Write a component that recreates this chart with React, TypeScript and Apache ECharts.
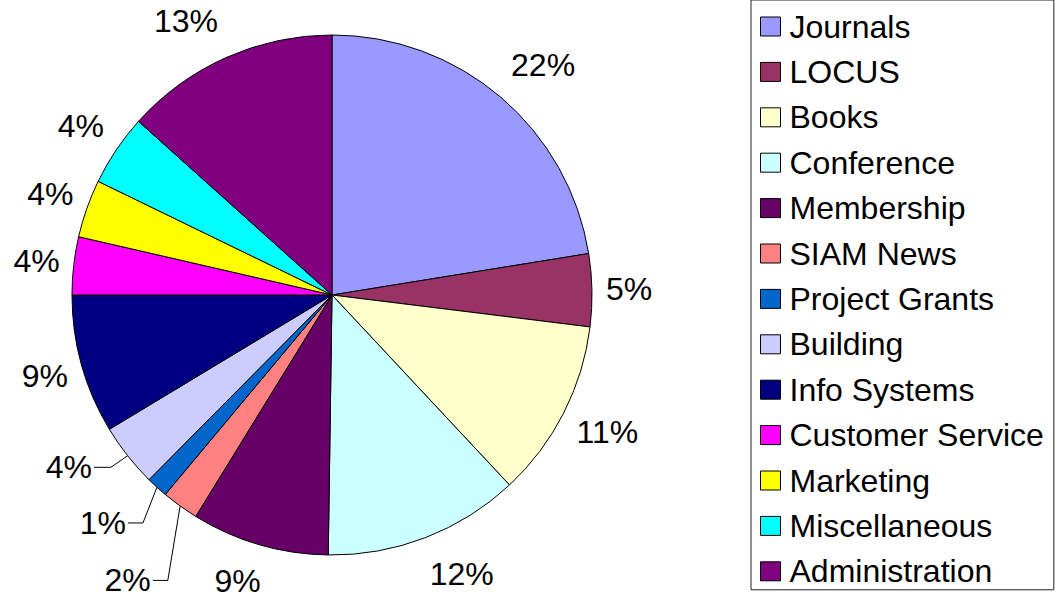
import React, { useEffect, useRef } from "react";
import * as echarts from "echarts";

const categories = [
  "Journals",
  "LOCUS",
  "Books",
  "Conference",
  "Membership",
  "SIAM News",
  "Project Grants",
  "Building",
  "Info Systems",
  "Customer Service",
  "Marketing",
  "Miscellaneous",
  "Administration",
];

// share of the total (percent)
const values = [22.45, 4.51, 11.08, 12.19, 8.55, 2.3, 1.35, 3.93, 8.64, 3.6, 3.6, 4.44, 13.36];

const colors = [
  "#9999FF",
  "#993366",
  "#FFFFCC",
  "#CCFFFF",
  "#660066",
  "#FF8080",
  "#0066CC",
  "#CCCCFF",
  "#000080",
  "#FF00FF",
  "#FFFF00",
  "#00FFFF",
  "#800080",
];

const FONT = '"Liberation Sans", Arial, Helvetica, sans-serif';
const CX = 332;
const CY = 295;
const R = 260;

// leader-line labels (moved labels): elbow offset from the arc point, horizontal leg
const callouts: Record<number, { dx: number; dy: number; leg: number }> = {
  5: { dx: -12.3, dy: 74.4, leg: 15 },
  6: { dx: -14, dy: 35.7, leg: 15 },
  7: { dx: -16.7, dy: 11.6, leg: 17 },
};

export default function App() {
  const ref = useRef<HTMLDivElement>(null);

  useEffect(() => {
    if (!ref.current) return;
    const chart = echarts.init(ref.current, undefined, { renderer: "svg" });
    const total = values.reduce((a, b) => a + b, 0);
    const cum: number[] = [];
    let acc = 0;
    values.forEach((v) => {
      cum.push(acc);
      acc += v;
    });
    const mid = (i: number) => ((cum[i] + values[i] / 2) / total) * Math.PI * 2;
    const clamp = (v: number) => Math.max(-1, Math.min(1, v));

    const option: any = {
      animation: false,
      backgroundColor: "#ffffff",
      legend: {
        orient: "vertical",
        left: 751,
        top: 0,
        data: categories,
        icon: "rect",
        itemWidth: 20,
        itemHeight: 19,
        itemGap: 10.4,
        padding: [9, 10, 1, 9],
        borderColor: "#222",
        borderWidth: 1,
        backgroundColor: "#fff",
        selectedMode: false,
        itemStyle: { borderColor: "#000", borderWidth: 1 },
        textStyle: {
          fontFamily: FONT,
          fontSize: 32,
          color: "#000",
          lineHeight: 35,
          padding: [0, 0, 0, 4],
        },
      },
      series: [
        {
          type: "pie",
          center: [CX, CY],
          radius: R,
          startAngle: 90,
          clockwise: true,
          avoidLabelOverlap: false,
          silent: true,
          emphasis: { disabled: true },
          itemStyle: { borderColor: "#000", borderWidth: 1 },
          label: {
            show: true,
            position: "outside",
            fontFamily: FONT,
            fontSize: 32,
            color: "#000",
            bleedMargin: 0,
            formatter: (p: any) => Math.round((p.value / total) * 100) + "%",
          },
          labelLine: {
            show: false,
            length: 0,
            length2: 0,
            smooth: false,
            lineStyle: { color: "#000", width: 1 },
          },
          labelLayout: (p: any) => {
            const i = p.dataIndex;
            const a = mid(i);
            const ux = Math.sin(a);
            const uy = -Math.cos(a);
            const c = callouts[i];
            if (c) {
              const x1 = CX + R * ux;
              const y1 = CY + R * uy;
              const x2 = x1 + c.dx;
              const y2 = y1 + c.dy;
              const x3 = x2 - c.leg;
              return {
                x: x3 - 2,
                y: y2,
                align: "right",
                verticalAlign: "middle",
                labelLinePoints: [
                  [x1, y1],
                  [x2, y2],
                  [x3, y2],
                ],
              };
            }
            const px = CX + (R + 10) * ux;
            const py = CY + (R + 10) * uy;
            const hw = p.labelRect.width / 2 + 4;
            const hh = 27;
            return {
              x: px + hw * clamp(2.5 * ux),
              y: py + hh * clamp(1.2 * uy),
              align: "center",
              verticalAlign: "middle",
            };
          },
          data: categories.map((name, i) => ({
            name,
            value: values[i],
            itemStyle: { color: colors[i] },
            labelLine: callouts[i] ? { show: true } : { show: false },
          })),
        },
      ],
    };
    chart.setOption(option);
    return () => chart.dispose();
  }, []);

  return (
    <div
      ref={ref}
      style={{ position: "fixed", left: 0, top: 0, width: 1063, height: 598, background: "#fff" }}
    />
  );
}
